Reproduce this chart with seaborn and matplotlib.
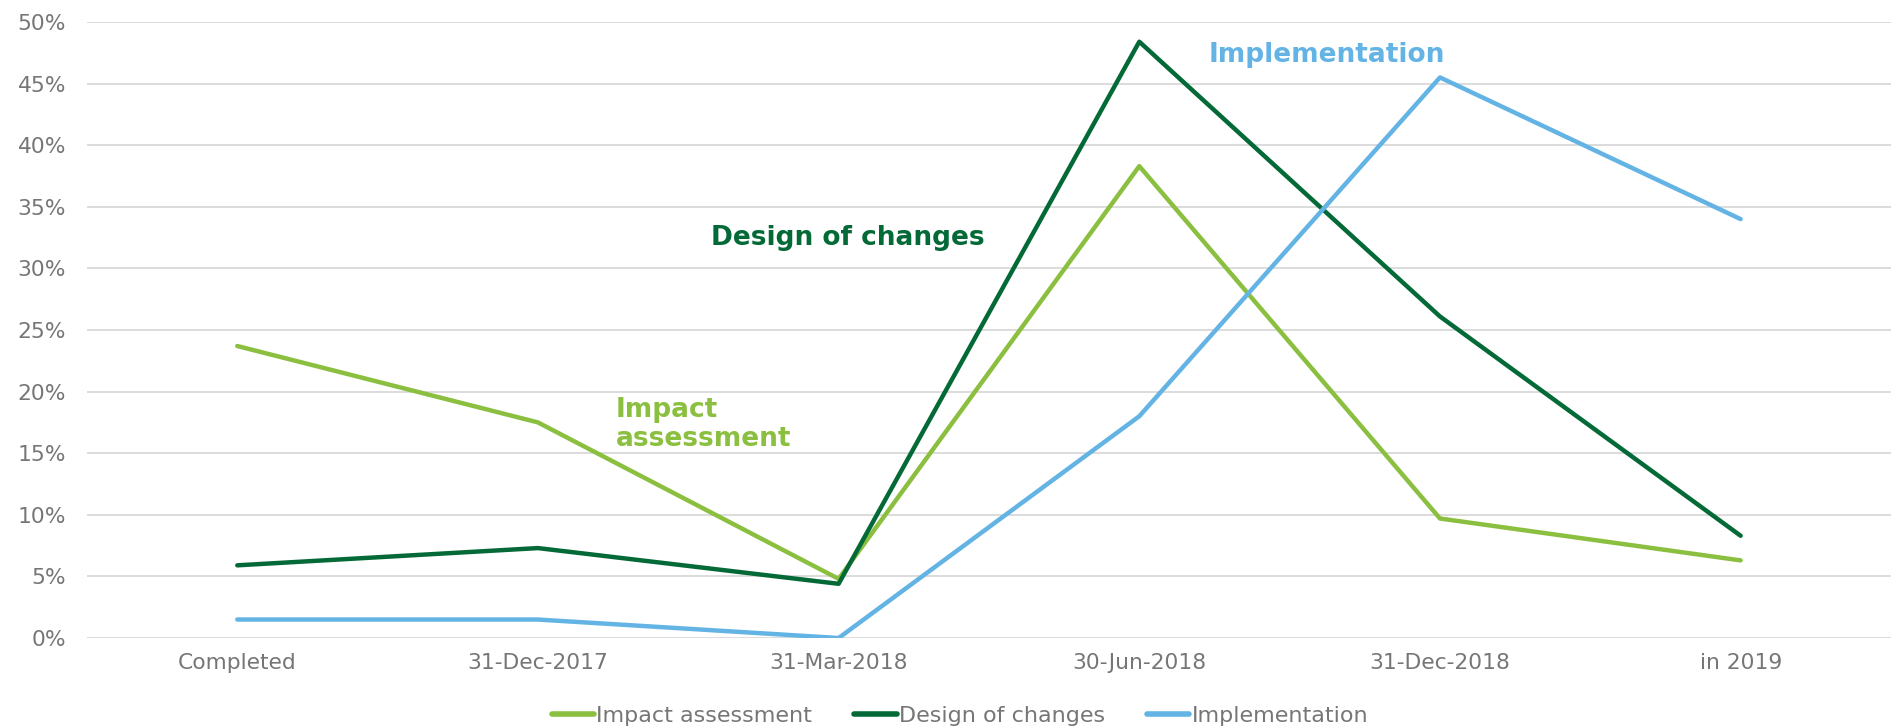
import numpy as np
import pandas as pd
import matplotlib.pyplot as plt
import seaborn as sns
from matplotlib.ticker import PercentFormatter

# data
categories = ['Completed', '31-Dec-2017', '31-Mar-2018', '30-Jun-2018', '31-Dec-2018', 'in 2019']
impact = [0.237, 0.175, 0.048, 0.383, 0.097, 0.063]
design = [0.059, 0.073, 0.044, 0.484, 0.261, 0.083]
implementation = [0.015, 0.015, 0.000, 0.180, 0.455, 0.340]

series_names = ['Impact assessment', 'Design of changes', 'Implementation']
colors = ['#8BBF3F', '#036A37', '#63B4E4']

df = pd.DataFrame({
    'cat': categories * 3,
    'pos': list(range(len(categories))) * 3,
    'value': impact + design + implementation,
    'series': [s for s in series_names for _ in categories],
})

sns.set_style('white')
plt.rcParams['font.family'] = ['DejaVu Sans']

fig = plt.figure(figsize=(18.98, 7.28), dpi=100)
ax = fig.add_axes([0.0458, 0.1236, 0.9505, 0.8462])

sns.lineplot(data=df, x='pos', y='value', hue='series', hue_order=series_names,
             palette=colors, linewidth=3.2, ax=ax, legend=True)

ax.set_xlim(-0.5, len(categories) - 0.5)
ax.set_ylim(0, 0.5)
ax.set_yticks(np.arange(0, 0.51, 0.05))
ax.yaxis.set_major_formatter(PercentFormatter(1.0, decimals=0))
ax.set_xticks(range(len(categories)))
ax.set_xticklabels(categories)
ax.set_xlabel('')
ax.set_ylabel('')
ax.tick_params(axis='both', colors='#767676', labelsize=15.7, length=0)
ax.tick_params(axis='x', pad=11)
ax.tick_params(axis='y', pad=15)
ax.grid(axis='y', color='#D9D9D9', linewidth=1.3)
ax.set_axisbelow(True)
for sp in ax.spines.values():
    sp.set_visible(False)

# labels placed next to the lines
ax.text(2.03, 0.325, 'Design of changes', color=colors[1], fontsize=19, fontweight='bold', ha='center', va='center')
ax.text(1.258, 0.173, 'Impact\nassessment', color=colors[0], fontsize=19, fontweight='bold', ha='left', va='center', linespacing=1.15)
ax.text(3.625, 0.473, 'Implementation', color=colors[2], fontsize=19, fontweight='bold', ha='center', va='center')

# legend sits a bit left of the plot centre, like the original
leg = ax.legend(loc='upper center', bbox_to_anchor=(0.484, -0.078), ncol=3, frameon=False,
                fontsize=16, handlelength=1.9, handletextpad=0.1, columnspacing=1.9)
for t in leg.get_texts():
    t.set_color('#767676')
for h in leg.get_lines():
    h.set_linewidth(4)

fig.savefig('out.png', dpi=100)
